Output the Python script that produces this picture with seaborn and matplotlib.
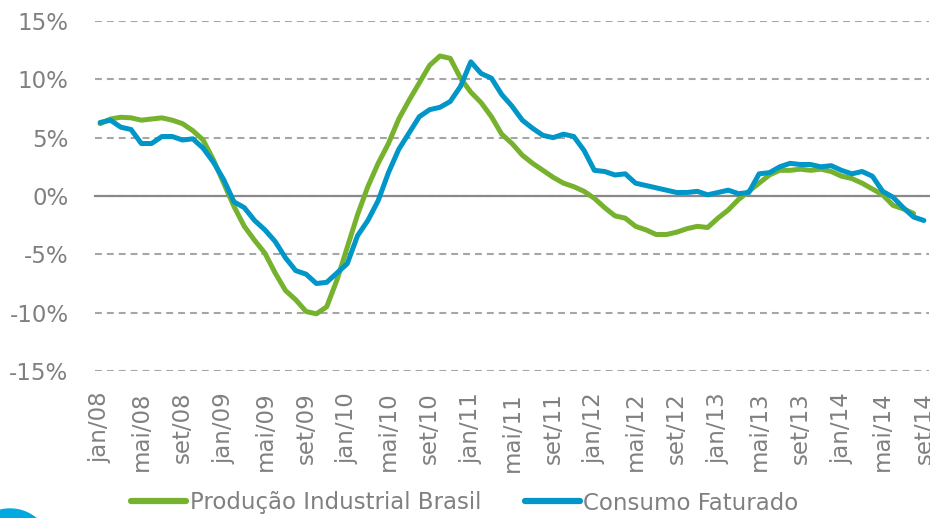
import numpy as np
import pandas as pd
import matplotlib
matplotlib.use('Agg')
import matplotlib.pyplot as plt
import seaborn as sns
from matplotlib.patches import Ellipse

# monthly series, jan/08 .. set/14 (% yoy)
meses_pt = ['jan', 'fev', 'mar', 'abr', 'mai', 'jun',
            'jul', 'ago', 'set', 'out', 'nov', 'dez']
periodos = [f"{meses_pt[m % 12]}/{8 + m // 12:02d}" for m in range(81)]

producao = [6.2, 6.6, 6.75, 6.7, 6.5, 6.6, 6.7, 6.5, 6.2, 5.6,
            4.8, 3.1, 1.1, -0.9, -2.6, -3.8, -4.9, -6.6, -8.1, -8.9,
            -9.9, -10.1, -9.5, -7.2, -4.4, -1.6, 0.8, 2.8, 4.5, 6.6,
            8.2, 9.7, 11.2, 12.0, 11.8, 10.1, 8.9, 8.0, 6.8, 5.3,
            4.5, 3.5, 2.8, 2.2, 1.6, 1.1, 0.8, 0.4, -0.2, -1.0,
            -1.7, -1.9, -2.6, -2.9, -3.3, -3.3, -3.1, -2.8, -2.6, -2.7,
            -1.9, -1.2, -0.3, 0.4, 1.1, 1.8, 2.2, 2.2, 2.3, 2.2,
            2.3, 2.1, 1.7, 1.5, 1.1, 0.6, 0.1, -0.8, -1.1, -1.5, np.nan]

consumo = [6.3, 6.5, 5.9, 5.7, 4.5, 4.5, 5.1, 5.1, 4.8, 4.9,
           4.1, 2.9, 1.4, -0.5, -1.0, -2.1, -2.9, -3.9, -5.3, -6.4,
           -6.7, -7.5, -7.4, -6.6, -5.8, -3.4, -2.1, -0.4, 2.0, 4.0,
           5.4, 6.8, 7.4, 7.6, 8.1, 9.4, 11.5, 10.5, 10.1, 8.7,
           7.7, 6.5, 5.8, 5.2, 5.0, 5.3, 5.1, 3.9, 2.2, 2.1,
           1.8, 1.9, 1.1, 0.9, 0.7, 0.5, 0.3, 0.3, 0.4, 0.1,
           0.3, 0.5, 0.2, 0.3, 1.9, 2.0, 2.5, 2.8, 2.7, 2.7,
           2.5, 2.6, 2.2, 1.9, 2.1, 1.7, 0.4, -0.1, -1.0, -1.8, -2.1]

series_names = ['Produção Industrial Brasil', 'Consumo Faturado']
cores = ['#77B22F', '#0096C8']
yticks = [-15, -10, -5, 0, 5, 10, 15]

df = pd.DataFrame({'idx': np.arange(len(periodos)),
                   series_names[0]: producao,
                   series_names[1]: consumo})
long_df = df.melt(id_vars='idx', var_name='serie', value_name='valor').dropna()

sns.set_style('white')
plt.rcParams['font.family'] = ['DejaVu Sans']

fig = plt.figure(figsize=(9.3, 5.18), dpi=100)
ax = fig.add_axes([95 / 930, 1 - 371 / 518, 834 / 930, 350 / 518])

sns.lineplot(data=long_df, x='idx', y='valor', hue='serie',
             hue_order=series_names, palette=cores, linewidth=3.6,
             ax=ax, legend=False, zorder=3)

ax.set_xlim(-0.5, len(periodos) - 0.5)
ax.set_ylim(-15, 15)
ax.set_yticks(yticks)
ax.set_yticklabels([f"{v}%" for v in yticks])
ax.yaxis.grid(True, color='#A6A6A6', linestyle=(0, (3.3, 2.4)), linewidth=1.5)
ax.set_axisbelow(True)
ax.tick_params(axis='y', length=0, pad=19, labelsize=16.5, labelcolor='#808080')
ax.set_xlabel('')
ax.set_ylabel('')

for s in ['left', 'right', 'top']:
    ax.spines[s].set_visible(False)

# category axis crossing at zero, tick marks between categories
ax.spines['bottom'].set_position(('data', 0))
ax.spines['bottom'].set_color('#898989')
ax.spines['bottom'].set_linewidth(1.6)
ax.spines['bottom'].set_zorder(2)
ax.set_xticks(np.arange(-0.5, len(periodos), 4))
ax.set_xticklabels([])
ax.tick_params(axis='x', direction='out', length=5.5, width=1.5, color='#898989')

# month labels along the bottom
sec = ax.secondary_xaxis('bottom')
sec.set_xticks(np.arange(0, len(periodos), 4))
sec.set_xticklabels(periodos[::4], rotation=90)
sec.tick_params(length=0, pad=15, labelsize=16.5, labelcolor='#808080')
sec.spines['bottom'].set_visible(False)

handles = [plt.Line2D([], [], color=c, linewidth=4.5, solid_capstyle='round')
           for c in cores]
fig.legend(handles, series_names, loc='center', ncol=2, frameon=False,
           bbox_to_anchor=(465 / 930, 1 - 503 / 518), fontsize=16.5,
           labelcolor='#808080', handlelength=2.4, handletextpad=0.15,
           columnspacing=1.9, borderpad=0)

# decorative circle from the slide, bottom-left corner
fig.patches.append(Ellipse((10 / 930, 1 - 550 / 518), 82 / 930, 82 / 518,
                           transform=fig.transFigure, color='#00A9E0'))

fig.savefig('out.png', dpi=100)
